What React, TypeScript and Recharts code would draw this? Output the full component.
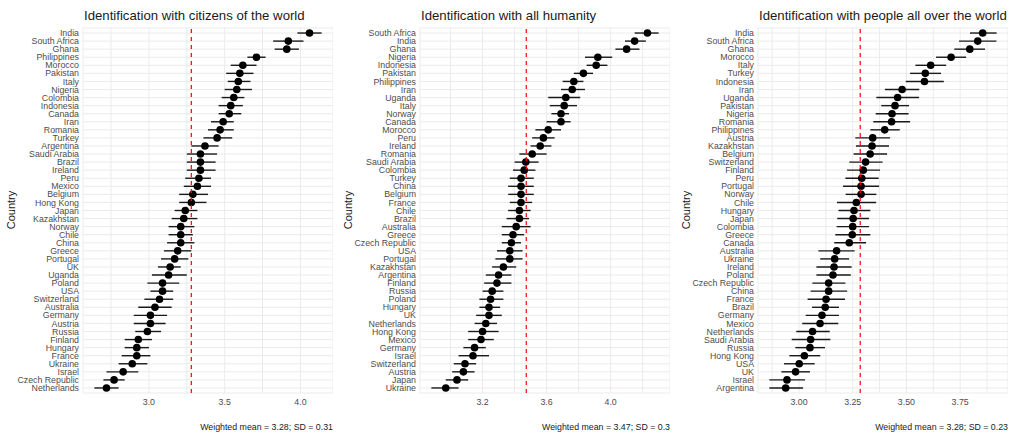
import React from "react";
import { ScatterChart, Scatter, XAxis, YAxis, CartesianGrid, ErrorBar, ReferenceLine } from "recharts";

const FONT = '"Liberation Sans", Arial, Helvetica, sans-serif';

// Identification with citizens of the world
const citizensCountries = [
  "India", "South Africa", "Ghana", "Philippines", "Morocco", "Pakistan", "Italy", "Nigeria", "Colombia",
  "Indonesia", "Canada", "Iran", "Romania", "Turkey", "Argentina", "Saudi Arabia", "Brazil", "Ireland", "Peru",
  "Mexico", "Belgium", "Hong Kong", "Japan", "Kazakhstan", "Norway", "Chile", "China", "Greece", "Portugal", "UK",
  "Uganda", "Poland", "USA", "Switzerland", "Australia", "Germany", "Austria", "Russia", "Finland", "Hungary",
  "France", "Ukraine", "Israel", "Czech Republic", "Netherlands",
];
const citizensMeans = [
  4.06, 3.92, 3.91, 3.71, 3.62, 3.6, 3.59, 3.58, 3.56, 3.54, 3.53, 3.49, 3.47, 3.45, 3.37, 3.34, 3.34, 3.34, 3.33,
  3.32, 3.29, 3.28, 3.24, 3.23, 3.21, 3.21, 3.21, 3.19, 3.17, 3.14, 3.13, 3.09, 3.09, 3.07, 3.04, 3.01, 3.01, 2.99,
  2.93, 2.92, 2.92, 2.89, 2.83, 2.77, 2.72,
];
const citizensLows = [
  3.98, 3.82, 3.83, 3.65, 3.54, 3.51, 3.52, 3.5, 3.48, 3.46, 3.46, 3.41, 3.39, 3.36, 3.28, 3.25, 3.25, 3.25, 3.24,
  3.23, 3.2, 3.2, 3.17, 3.15, 3.13, 3.13, 3.12, 3.1, 3.08, 3.06, 3.02, 2.99, 3.01, 2.97, 2.93, 2.9, 2.9, 2.91,
  2.84, 2.84, 2.82, 2.8, 2.72, 2.7, 2.64,
];
const citizensHighs = [
  4.14, 4.02, 3.99, 3.77, 3.71, 3.69, 3.67, 3.68, 3.63, 3.62, 3.61, 3.56, 3.56, 3.55, 3.46, 3.45, 3.44, 3.44, 3.41,
  3.41, 3.39, 3.38, 3.32, 3.32, 3.3, 3.29, 3.3, 3.28, 3.26, 3.21, 3.25, 3.2, 3.16, 3.16, 3.15, 3.12, 3.11, 3.08,
  3.02, 3.0, 3.01, 2.99, 2.93, 2.84, 2.8,
];

// Identification with all humanity
const humanityCountries = [
  "South Africa", "India", "Ghana", "Nigeria", "Indonesia", "Pakistan", "Philippines", "Iran", "Uganda", "Italy",
  "Norway", "Canada", "Morocco", "Peru", "Ireland", "Romania", "Saudi Arabia", "Colombia", "Turkey", "China",
  "Belgium", "France", "Chile", "Brazil", "Australia", "Greece", "Czech Republic", "USA", "Portugal", "Kazakhstan",
  "Argentina", "Finland", "Russia", "Poland", "Hungary", "UK", "Netherlands", "Hong Kong", "Mexico", "Germany",
  "Israel", "Switzerland", "Austria", "Japan", "Ukraine",
];
const humanityMeans = [
  4.23, 4.15, 4.1, 3.92, 3.91, 3.83, 3.77, 3.76, 3.72, 3.71, 3.69, 3.69, 3.61, 3.58, 3.56, 3.51, 3.47, 3.46, 3.44,
  3.44, 3.44, 3.44, 3.43, 3.43, 3.41, 3.39, 3.38, 3.37, 3.37, 3.33, 3.3, 3.29, 3.26, 3.25, 3.24, 3.24, 3.22, 3.2,
  3.19, 3.15, 3.14, 3.09, 3.08, 3.04, 2.97,
];
const humanityLows = [
  4.15, 4.09, 4.03, 3.84, 3.85, 3.77, 3.7, 3.69, 3.61, 3.62, 3.63, 3.6, 3.53, 3.51, 3.5, 3.43, 3.4, 3.39, 3.37,
  3.36, 3.36, 3.37, 3.36, 3.35, 3.32, 3.32, 3.32, 3.29, 3.28, 3.26, 3.22, 3.21, 3.2, 3.18, 3.18, 3.16, 3.15, 3.11,
  3.11, 3.08, 3.05, 3.02, 3.01, 2.97, 2.88,
];
const humanityHighs = [
  4.3, 4.22, 4.18, 4.01, 3.98, 3.89, 3.83, 3.84, 3.81, 3.79, 3.74, 3.75, 3.69, 3.65, 3.63, 3.6, 3.55, 3.53, 3.52,
  3.52, 3.52, 3.51, 3.5, 3.49, 3.5, 3.46, 3.44, 3.45, 3.45, 3.41, 3.38, 3.38, 3.33, 3.33, 3.31, 3.32, 3.29, 3.3,
  3.27, 3.22, 3.24, 3.16, 3.15, 3.11, 3.05,
];

// Identification with people all over the world
const peopleCountries = [
  "India", "South Africa", "Ghana", "Morocco", "Italy", "Turkey", "Indonesia", "Iran", "Uganda", "Pakistan",
  "Nigeria", "Romania", "Philippines", "Austria", "Kazakhstan", "Belgium", "Switzerland", "Finland", "Peru",
  "Portugal", "Norway", "Chile", "Hungary", "Japan", "Colombia", "Greece", "Canada", "Australia", "Ukraine",
  "Ireland", "Poland", "Czech Republic", "China", "France", "Brazil", "Germany", "Mexico", "Netherlands",
  "Saudi Arabia", "Russia", "Hong Kong", "USA", "UK", "Israel", "Argentina",
];
const peopleMeans = [
  3.855, 3.832, 3.795, 3.708, 3.613, 3.588, 3.584, 3.48, 3.459, 3.447, 3.433, 3.431, 3.399, 3.343, 3.34, 3.331,
  3.31, 3.299, 3.292, 3.289, 3.289, 3.267, 3.256, 3.252, 3.25, 3.248, 3.234, 3.175, 3.166, 3.163, 3.158, 3.138,
  3.138, 3.126, 3.122, 3.107, 3.098, 3.063, 3.054, 3.051, 3.025, 3.001, 2.984, 2.944, 2.938,
];
const peopleLows = [
  3.796, 3.745, 3.723, 3.638, 3.542, 3.517, 3.497, 3.4, 3.36, 3.383, 3.357, 3.346, 3.332, 3.262, 3.265, 3.254,
  3.234, 3.224, 3.216, 3.205, 3.217, 3.177, 3.184, 3.178, 3.175, 3.169, 3.164, 3.09, 3.099, 3.081, 3.081, 3.062,
  3.054, 3.04, 3.061, 3.031, 3.015, 2.987, 2.966, 2.983, 2.955, 2.93, 2.918, 2.862, 2.862,
];
const peopleHighs = [
  3.92, 3.919, 3.866, 3.778, 3.685, 3.661, 3.674, 3.56, 3.559, 3.512, 3.51, 3.517, 3.469, 3.424, 3.419, 3.41,
  3.389, 3.377, 3.371, 3.373, 3.36, 3.359, 3.332, 3.326, 3.326, 3.332, 3.312, 3.259, 3.233, 3.245, 3.241, 3.216,
  3.224, 3.214, 3.186, 3.186, 3.183, 3.143, 3.146, 3.121, 3.099, 3.073, 3.051, 3.028, 3.019,
];

type PanelProps = {
  title: string;
  countries: string[];
  means: number[];
  lows: number[];
  highs: number[];
  majorTicks: number[];
  minorTicks: number[];
  digits: number;
  weightedMean: number;
  caption: string;
  left: number;
  plotLeft: number;
  plotRight: number;
};

const Dot = (props: any) => <circle cx={props.cx} cy={props.cy} r={3.8} fill="#000" />;

// plain svg text so long country names don't get wrapped
const CountryTick = (props: any) => (
  <text x={props.x} y={props.y} dy="0.355em" textAnchor="end" fontSize={8.8} fill="#4d4d4d" fontFamily={FONT}>
    {props.payload.value}
  </text>
);

function Panel(p: PanelProps) {
  const data = p.countries.map((country, i) => ({
    country,
    mean: p.means[i],
    err: [p.means[i] - p.lows[i], p.highs[i] - p.means[i]],
  }));
  const lo = Math.min(...p.lows);
  const hi = Math.max(...p.highs);
  const pad = (hi - lo) * 0.05;
  const domain: [number, number] = [lo - pad, hi + pad];
  const ticks = [...p.minorTicks, ...p.majorTicks]
    .filter((t) => t >= domain[0] && t <= domain[1])
    .sort((a, b) => a - b);
  const width = p.plotRight - p.left;

  const ValueTick = (props: any) => {
    const v = props.payload.value as number;
    if (!p.majorTicks.includes(v)) return <g />;
    return (
      <text x={props.x} y={props.y} dy="0.71em" textAnchor="middle" fontSize={8.8} fill="#4d4d4d" fontFamily={FONT}>
        {v.toFixed(p.digits)}
      </text>
    );
  };

  return (
    <div style={{ position: "absolute", left: p.left, top: 0, width, height: 438 }}>
      <ScatterChart width={width} height={438} margin={{ top: 28, right: 0, bottom: 25, left: 0 }}>
        <CartesianGrid stroke="#ebebeb" strokeWidth={1} />
        <XAxis
          type="number"
          dataKey="mean"
          domain={domain}
          allowDataOverflow
          ticks={ticks}
          interval={0}
          axisLine={false}
          tickLine={false}
          tickSize={0}
          tickMargin={6}
          height={20}
          tick={<ValueTick />}
        />
        <YAxis
          type="category"
          dataKey="country"
          reversed
          interval={0}
          width={p.plotLeft - p.left}
          axisLine={false}
          tickLine={false}
          tickSize={0}
          tickMargin={4}
          padding={{ top: 1, bottom: 1 }}
          tick={<CountryTick />}
        />
        <Scatter data={data} fill="#000" shape={Dot} isAnimationActive={false}>
          <ErrorBar dataKey="err" direction="x" width={0} stroke="#1a1a1a" strokeWidth={1.4} isAnimationActive={false} />
        </Scatter>
        {/* mean line sits on top of the dots, like in the original */}
        <ReferenceLine x={p.weightedMean} stroke="#ff0000" strokeWidth={1.2} strokeDasharray="4 4" zIndex={1000} />
      </ScatterChart>
    </div>
  );
}

const panels: PanelProps[] = [
  {
    title: "Identification with citizens of the world",
    countries: citizensCountries,
    means: citizensMeans,
    lows: citizensLows,
    highs: citizensHighs,
    majorTicks: [3.0, 3.5, 4.0],
    minorTicks: [2.75, 3.25, 3.75, 4.25],
    digits: 1,
    weightedMean: 3.28,
    caption: "Weighted mean = 3.28; SD = 0.31",
    left: 0,
    plotLeft: 83,
    plotRight: 333,
  },
  {
    title: "Identification with all humanity",
    countries: humanityCountries,
    means: humanityMeans,
    lows: humanityLows,
    highs: humanityHighs,
    majorTicks: [3.2, 3.6, 4.0],
    minorTicks: [3.0, 3.4, 3.8, 4.2],
    digits: 1,
    weightedMean: 3.473,
    caption: "Weighted mean = 3.47; SD = 0.3",
    left: 337,
    plotLeft: 420,
    plotRight: 670,
  },
  {
    title: "Identification with people all over the world",
    countries: peopleCountries,
    means: peopleMeans,
    lows: peopleLows,
    highs: peopleHighs,
    majorTicks: [3.0, 3.25, 3.5, 3.75],
    minorTicks: [2.875, 3.125, 3.375, 3.625, 3.875],
    digits: 2,
    weightedMean: 3.285,
    caption: "Weighted mean = 3.28; SD = 0.23",
    left: 675,
    plotLeft: 758,
    plotRight: 1008,
  },
];

export default function App() {
  return (
    <div style={{ position: "absolute", left: 0, top: 0, width: 1016, height: 438, background: "#fff", overflow: "hidden" }}>
      {panels.map((p) => (
        <Panel key={p.title} {...p} />
      ))}
      <svg width={1016} height={438} style={{ position: "absolute", left: 0, top: 0, pointerEvents: "none" }}>
        {panels.map((p) => (
          <g key={p.title} fontFamily={FONT}>
            <text x={p.plotLeft + 1} y={20} fontSize={13.2} fill="#1a1a1a">
              {p.title}
            </text>
            <text
              x={p.plotLeft - 68}
              y={210}
              fontSize={11}
              fill="#1a1a1a"
              textAnchor="middle"
              transform={`rotate(-90, ${p.plotLeft - 68}, 210)`}
            >
              Country
            </text>
            <text x={p.plotRight} y={430} fontSize={8.8} fill="#1a1a1a" textAnchor="end">
              {p.caption}
            </text>
          </g>
        ))}
      </svg>
    </div>
  );
}
